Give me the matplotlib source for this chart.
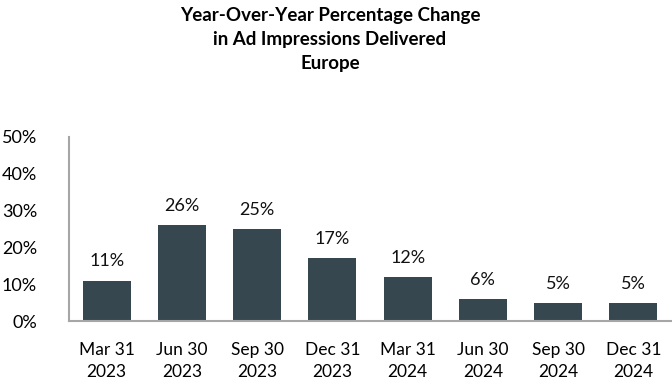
import matplotlib.pyplot as plt

# Dados
trimestres = ["Mar 31\n2023", "Jun 30\n2023", "Sep 30\n2023", "Dec 31\n2023",
              "Mar 31\n2024", "Jun 30\n2024", "Sep 30\n2024", "Dec 31\n2024"]
variacao = [0.11, 0.26, 0.25, 0.17, 0.12, 0.06, 0.05, 0.05]
yticks = [0, 0.1, 0.2, 0.3, 0.4, 0.5]

plt.rcParams["font.family"] = ["Lato", "DejaVu Sans"]

fig = plt.figure(figsize=(6.72, 3.84), dpi=100)
ax = fig.add_axes([69/672, 1 - 321/384, 602/672, 184/384])

x = range(len(trimestres))
ax.bar(x, variacao, width=0.64, color="#36474f")

for i, v in zip(x, variacao):
    ax.text(i, v + 0.03, f"{round(v*100)}%", ha="center", va="bottom", fontsize=13, color="#111111")

ax.set_xlim(-0.5, 7.5)
ax.set_ylim(0, 0.5)
ax.set_yticks(yticks)
ax.set_yticklabels([f"{round(t*100)}%" for t in yticks], fontsize=13)
ax.set_xticks(list(x))
ax.set_xticklabels(trimestres, fontsize=12.5, linespacing=1.45)
ax.tick_params(axis="y", length=0, pad=23)
ax.tick_params(axis="x", length=0, pad=15)

for s in ["top", "right"]:
    ax.spines[s].set_visible(False)
ax.spines["left"].set_color("#a6a6a6")
ax.spines["bottom"].set_color("#a6a6a6")
ax.spines["left"].set_linewidth(1.5)
ax.spines["bottom"].set_linewidth(1.5)

fig.text(330/672, 1 - 7/384, "Year-Over-Year Percentage Change\nin Ad Impressions Delivered\nEurope",
         ha="center", va="top", fontsize=13.5, fontweight="bold", linespacing=1.5)

fig.savefig("out.png", dpi=100)
